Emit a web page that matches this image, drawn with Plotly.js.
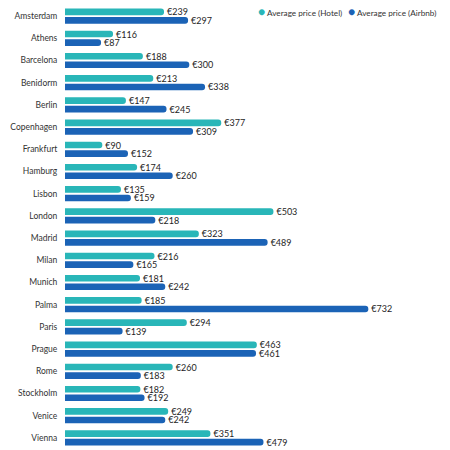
<!DOCTYPE html>
<html><head><meta charset="utf-8">
<script src="https://cdn.plot.ly/plotly-3.0.1.min.js"></script>
<style>html,body{margin:0;padding:0;background:#fff}#c{width:450px;height:450px}</style>
</head><body><div id="c"></div>
<script>
const cities = ["Amsterdam","Athens","Barcelona","Benidorm","Berlin","Copenhagen","Frankfurt","Hamburg","Lisbon","London","Madrid","Milan","Munich","Palma","Paris","Prague","Rome","Stockholm","Venice","Vienna"];
const hotel = [239,116,188,213,147,377,90,174,135,503,323,216,181,185,294,463,260,182,249,351];
const airbnb = [297,87,300,338,245,309,152,260,159,218,489,165,242,732,139,461,183,192,242,479];
const seriesNames = ["Average price (Hotel)","Average price (Airbnb)"];
const colors = ["#29b6b8","#1b63b6"];
const FONT = 'Lato, sans-serif';

const mk = (vals, i) => ({
  type: 'bar', orientation: 'h', y: cities, x: vals, name: seriesNames[i],
  marker: {color: colors[i], cornerradius: 4},
  texttemplate: '€%{x}', textposition: 'outside', cliponaxis: false, constraintext: 'none',
  textfont: {family: FONT, size: 9, color: '#1e1e1e'},
  hoverinfo: 'none', showlegend: false
});

const legendAnn = (i, xp) => ({
  xref: 'paper', yref: 'paper', x: xp, y: 0.985, xanchor: 'left', yanchor: 'middle', showarrow: false,
  text: '<span style="color:' + colors[i] + ';font-size:12px">●</span> ' + seriesNames[i],
  font: {family: FONT, size: 8.2, color: '#333'}
});

Plotly.newPlot('c', [mk(hotel,0), mk(airbnb,1)], {
  width: 450, height: 450,
  margin: {l: 65, r: 10, t: 5, b: 1},
  barmode: 'group', bargap: 0.23, bargroupgap: 0.22,
  paper_bgcolor: '#fff', plot_bgcolor: '#fff',
  font: {family: FONT, size: 9, color: '#333'},
  xaxis: {range: [0, 905], showgrid: false, zeroline: false, showticklabels: false, showline: false, fixedrange: true},
  yaxis: {autorange: 'reversed', showgrid: false, showline: false, zeroline: false, ticks: 'outside', ticklen: 5, tickcolor: 'rgba(0,0,0,0)',
          tickfont: {family: FONT, size: 8.5, color: '#333'}, automargin: false, type: 'category'},
  showlegend: false,
  annotations: [legendAnn(0, 0.51), legendAnn(1, 0.75)]
}, {displayModeBar: false, staticPlot: true});
</script></body></html>
